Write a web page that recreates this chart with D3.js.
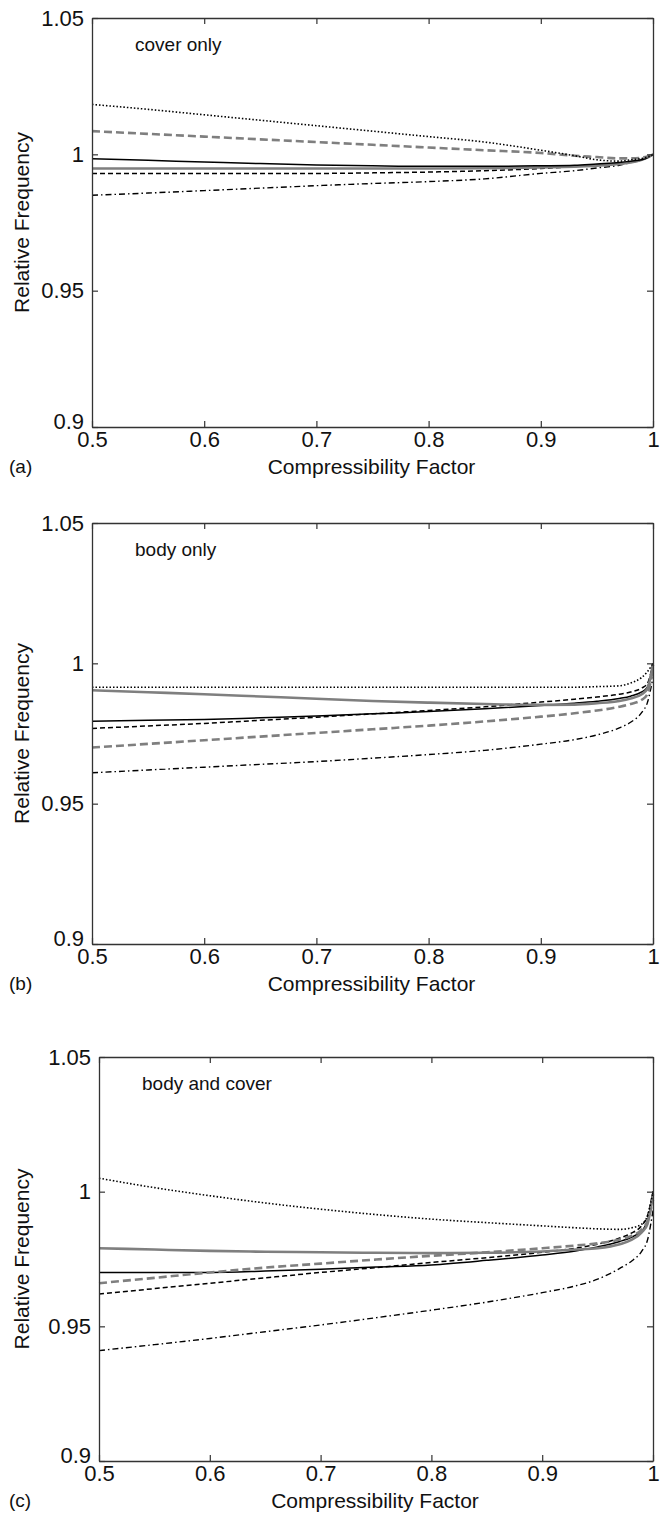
<!DOCTYPE html>
<html>
<head>
<meta charset="utf-8">
<script src="https://cdn.jsdelivr.net/npm/d3@7"></script>
<style>
  body { margin: 0; background: #fff; }
  svg text { font-family: "Liberation Sans", Arial, sans-serif; fill: #111; }
</style>
</head>
<body>
<svg id="chart" width="664" height="1520"></svg>
<script>
// sample points along the compressibility factor axis
var zValues = [0.5, 0.55, 0.6, 0.65, 0.7, 0.75, 0.8, 0.85, 0.9, 0.93, 0.95, 0.97, 0.98, 0.99, 0.995, 1.0];

var xTicks = [0.5, 0.6, 0.7, 0.8, 0.9, 1];
var yTicks = [0.9, 0.95, 1, 1.05];
var xTickLabels = ["0.5", "0.6", "0.7", "0.8", "0.9", "1"];
var yTickLabels = ["0.9", "0.95", "1", "1.05"];

var panelNames = ["cover only", "body only", "body and cover"];
var panelTags = ["(a)", "(b)", "(c)"];

// (a) cover only
var coverDotted = [1.0183, 1.0165, 1.0145, 1.0125, 1.0105, 1.0085, 1.0065, 1.0045, 1.0015, 0.9995, 0.998, 0.9975, 0.998, 0.9985, 0.999, 1.0];
var coverGrayDashed = [1.0085, 1.0075, 1.0065, 1.0055, 1.0045, 1.0035, 1.0025, 1.0015, 1.0005, 0.9995, 0.999, 0.9985, 0.9985, 0.9988, 0.9992, 1.0];
var coverSolid = [0.9984, 0.9978, 0.9972, 0.9966, 0.9961, 0.9958, 0.9956, 0.9956, 0.9958, 0.996, 0.9965, 0.997, 0.9975, 0.998, 0.9988, 1.0];
var coverGraySolid = [0.9948, 0.9948, 0.9948, 0.9948, 0.9948, 0.9948, 0.9948, 0.9949, 0.9952, 0.9955, 0.9958, 0.9965, 0.997, 0.998, 0.9988, 1.0];
var coverDashed = [0.993, 0.993, 0.993, 0.993, 0.993, 0.9932, 0.9935, 0.994, 0.9948, 0.9955, 0.996, 0.9968, 0.9973, 0.998, 0.9988, 1.0];
var coverDashDot = [0.985, 0.9858, 0.9867, 0.9876, 0.9885, 0.9893, 0.99, 0.991, 0.993, 0.994, 0.995, 0.996, 0.997, 0.998, 0.9988, 1.0];

// (b) body only
var bodyDotted = [0.9915, 0.9915, 0.9915, 0.9915, 0.9915, 0.9915, 0.9915, 0.9915, 0.9915, 0.9915, 0.9917, 0.992, 0.993, 0.995, 0.997, 1.0];
var bodyGraySolid = [0.9904, 0.9897, 0.989, 0.9882, 0.9874, 0.9866, 0.986, 0.9855, 0.9852, 0.9853, 0.9858, 0.9866, 0.9875, 0.989, 0.991, 0.9995];
var bodySolid = [0.9794, 0.9797, 0.98, 0.9806, 0.9812, 0.982, 0.9828, 0.9838, 0.985, 0.9858, 0.9865, 0.9875, 0.9883, 0.9898, 0.9915, 1.0];
var bodyDashed = [0.9768, 0.9777, 0.9786, 0.9797, 0.9808, 0.982, 0.9832, 0.9845, 0.9862, 0.9872, 0.988, 0.989, 0.9898, 0.9912, 0.9928, 1.0];
var bodyGrayDashed = [0.970, 0.9713, 0.9726, 0.9739, 0.9752, 0.9765, 0.9778, 0.9793, 0.981, 0.9822, 0.9832, 0.9845, 0.9855, 0.987, 0.989, 0.9985];
var bodyDashDot = [0.961, 0.962, 0.963, 0.964, 0.965, 0.9662, 0.9675, 0.969, 0.9712, 0.9728, 0.9745, 0.977, 0.979, 0.9825, 0.986, 0.995];

// (c) body and cover
var bothDotted = [1.005, 1.0015, 0.9985, 0.9958, 0.9935, 0.9915, 0.9898, 0.9885, 0.9873, 0.9866, 0.9862, 0.986, 0.9865, 0.988, 0.991, 1.0];
var bothGraySolid = [0.979, 0.9785, 0.978, 0.9777, 0.9775, 0.9773, 0.9772, 0.9773, 0.9778, 0.9785, 0.979, 0.9805, 0.982, 0.985, 0.988, 0.999];
var bothGrayDashed = [0.966, 0.968, 0.970, 0.9718, 0.9733, 0.9748, 0.9762, 0.9775, 0.979, 0.98, 0.9808, 0.9822, 0.9835, 0.986, 0.989, 0.997];
var bothSolid = [0.970, 0.970, 0.970, 0.9705, 0.9712, 0.972, 0.9728, 0.9745, 0.9765, 0.978, 0.9795, 0.9815, 0.983, 0.9855, 0.989, 1.0];
var bothDashed = [0.962, 0.964, 0.966, 0.968, 0.970, 0.9718, 0.9737, 0.9755, 0.9775, 0.979, 0.9805, 0.9828, 0.9845, 0.9875, 0.991, 1.0];
var bothDashDot = [0.941, 0.9432, 0.9455, 0.948, 0.9505, 0.9532, 0.956, 0.959, 0.9625, 0.965, 0.9675, 0.9715, 0.974, 0.978, 0.982, 0.993];

var svg = d3.select("#chart");

// line styles, matlab-ish
var styles = {
  dotted:     { color: "#000", width: 1.6, dash: "1.5,2" },
  grayDashed: { color: "#7f7f7f", width: 2.6, dash: "8,4" },
  solid:      { color: "#000", width: 1.5, dash: null },
  graySolid:  { color: "#7f7f7f", width: 2.6, dash: null },
  dashed:     { color: "#000", width: 1.5, dash: "5,3" },
  dashDot:    { color: "#000", width: 1.4, dash: "6,3,1.5,3" }
};

var panels = [
  { box: { left: 92, right: 653, top: 18, bottom: 427 },
    series: [["dashDot", coverDashDot], ["dashed", coverDashed], ["graySolid", coverGraySolid],
             ["solid", coverSolid], ["grayDashed", coverGrayDashed], ["dotted", coverDotted]] },
  { box: { left: 92, right: 653, top: 523, bottom: 944 },
    series: [["dashDot", bodyDashDot], ["grayDashed", bodyGrayDashed], ["dashed", bodyDashed],
             ["solid", bodySolid], ["graySolid", bodyGraySolid], ["dotted", bodyDotted]] },
  { box: { left: 99, right: 653, top: 1057, bottom: 1461 },
    series: [["dashDot", bothDashDot], ["dashed", bothDashed], ["solid", bothSolid],
             ["grayDashed", bothGrayDashed], ["graySolid", bothGraySolid], ["dotted", bothDotted]] }
];

panels.forEach(function(p, i) {
  var b = p.box;
  var x = d3.scaleLinear().domain([0.5, 1]).range([b.left, b.right]);
  var y = d3.scaleLinear().domain([0.9, 1.05]).range([b.bottom, b.top]);
  var g = svg.append("g");

  var line = d3.line()
    .x(function(d) { return x(d[0]); })
    .y(function(d) { return y(d[1]); })
    .curve(d3.curveMonotoneX);

  p.series.forEach(function(s) {
    var st = styles[s[0]];
    var pts = zValues.map(function(z, k) { return [z, s[1][k]]; });
    g.append("path")
      .attr("d", line(pts))
      .attr("fill", "none")
      .attr("stroke", st.color)
      .attr("stroke-width", st.width)
      .attr("stroke-dasharray", st.dash);
  });

  // axes: ticks point inward on all four sides
  var fmtX = function(d) { return xTickLabels[xTicks.indexOf(d)]; };
  var fmtY = function(d) { return yTickLabels[yTicks.indexOf(d)]; };

  var bottomAx = g.append("g").attr("transform", "translate(0," + b.bottom + ")")
    .call(d3.axisBottom(x).tickValues(xTicks).tickFormat(fmtX).tickSizeInner(-6).tickSizeOuter(0).tickPadding(9));
  var topAx = g.append("g").attr("transform", "translate(0," + b.top + ")")
    .call(d3.axisTop(x).tickValues(xTicks).tickFormat("").tickSizeInner(-6).tickSizeOuter(0));
  var leftAx = g.append("g").attr("transform", "translate(" + b.left + ",0)")
    .call(d3.axisLeft(y).tickValues(yTicks).tickFormat(fmtY).tickSizeInner(-6).tickSizeOuter(0).tickPadding(8));
  var rightAx = g.append("g").attr("transform", "translate(" + b.right + ",0)")
    .call(d3.axisRight(y).tickValues(yTicks).tickFormat("").tickSizeInner(-6).tickSizeOuter(0));

  [bottomAx, topAx, leftAx, rightAx].forEach(function(a) {
    a.select(".domain").attr("stroke", "#333").attr("stroke-width", 1.3);
    a.selectAll(".tick line").attr("stroke", "#333").attr("stroke-width", 1.2);
    a.selectAll("text").attr("font-size", 22).attr("fill", "#111")
      .attr("font-family", "Liberation Sans, Arial, sans-serif");
  });
  bottomAx.selectAll(".tick text").attr("dy", "0.5em");
  // lift the bottom y label a little so it sits on top of the "0.5"
  leftAx.selectAll(".tick text").filter(function(d) { return d === 0.9; }).attr("dy", "0.05em");

  // in-plot label
  g.append("text")
    .attr("x", b.left + 43)
    .attr("y", b.top + 33)
    .attr("font-size", 19)
    .text(panelNames[i]);

  // axis titles
  g.append("text")
    .attr("x", (b.left + b.right) / 2 - 1)
    .attr("y", b.bottom + 47)
    .attr("text-anchor", "middle")
    .attr("font-size", 21)
    .text("Compressibility Factor");

  g.append("text")
    .attr("transform", "translate(29," + ((b.top + b.bottom) / 2) + ") rotate(-90)")
    .attr("text-anchor", "middle")
    .attr("font-size", 21)
    .text("Relative Frequency");

  g.append("text")
    .attr("x", 9)
    .attr("y", b.bottom + 46)
    .attr("font-size", 19)
    .text(panelTags[i]);
});
</script>
</body>
</html>
